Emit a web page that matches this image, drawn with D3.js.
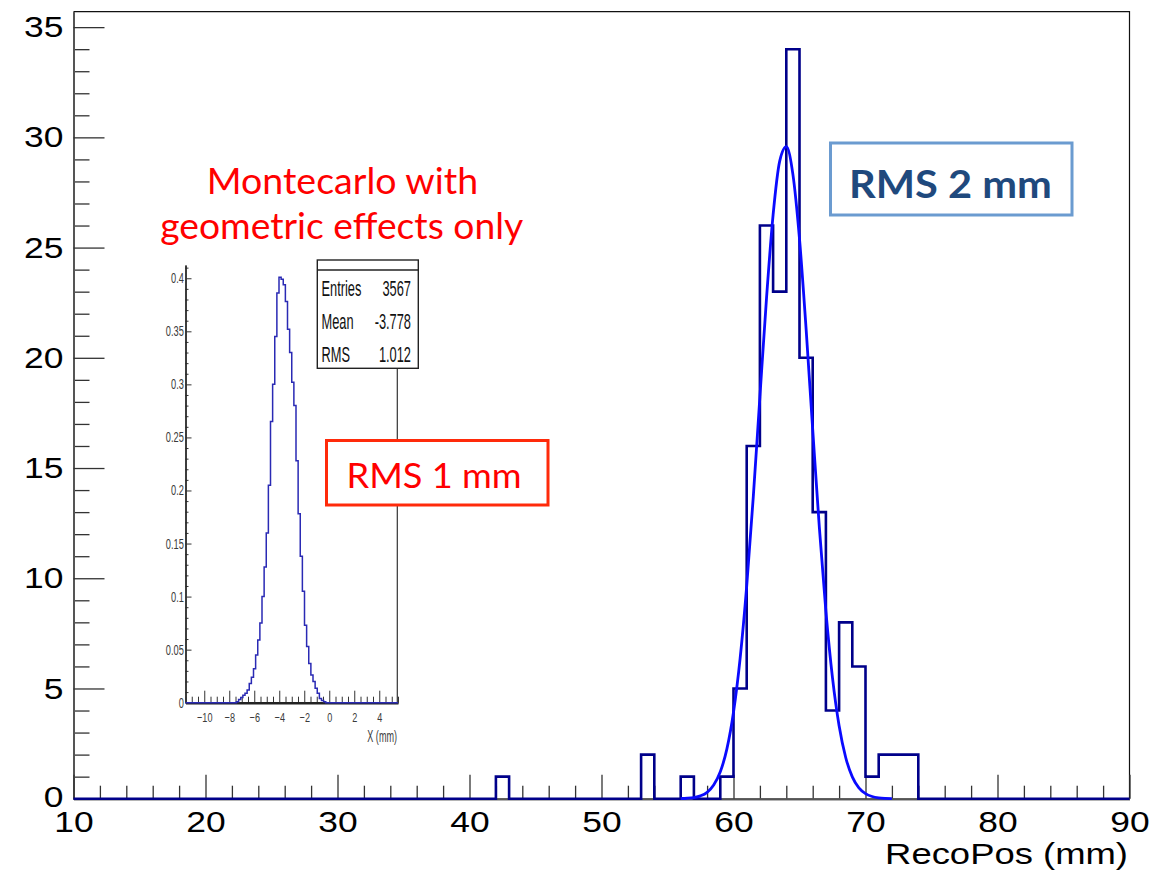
<!DOCTYPE html>
<html>
<head>
<meta charset="utf-8">
<script src="https://cdn.jsdelivr.net/npm/d3@7"></script>
<style>
  html, body { margin: 0; background: #fff; }
  svg { display: block; }
</style>
</head>
<body>
<svg id="chart" width="1173" height="870"></svg>
<script>
// ---- Reconstructed position, 1 mm bins (lower bin edge in mm -> entries); empty bins omitted
const recoRange = [10, 90];
const recoBinWidth = 1;
const recoBinLow = [42, 53, 56, 59, 60, 61, 62, 63, 64, 65, 66, 67, 68, 69, 70, 71, 72, 73];
const recoCounts = [1, 2, 1, 1, 5, 16, 26, 23, 34, 20, 13, 4, 8, 6, 1, 2, 2, 2];

// ---- Gaussian fit curve drawn over the histogram (x in mm -> entries)
const fitX = [56, 56.5, 57, 57.5, 58, 58.5, 59, 59.5, 60, 60.5, 61, 61.5, 62, 62.5, 63, 63.5,
              64, 64.5, 65, 65.5, 66, 66.5, 67, 67.5, 68, 68.5, 69, 69.5, 70, 70.5, 71, 71.5, 72];
const fitY = [0.008, 0.021, 0.054, 0.13, 0.29, 0.62, 1.22, 2.26, 3.92, 6.35, 9.64, 13.70, 18.23,
              22.70, 26.48, 28.92, 29.58, 28.32, 25.39, 21.31, 16.75, 12.33, 8.50, 5.48, 3.31,
              1.87, 0.99, 0.49, 0.23, 0.10, 0.04, 0.015, 0.006];

// ---- Main axes ticks
const yMajorTicks = [0, 5, 10, 15, 20, 25, 30, 35];
const xMajorTicks = [10, 20, 30, 40, 50, 60, 70, 80, 90];
const xTitle = "RecoPos (mm)";

// ---- Inset: Monte Carlo, normalised, 100 bins over the range
const mcRange = [-11.5, 5.5];
const mcBinWidth = 0.17;
const mcFirstBin = 24;           // index of the first non-empty bin
const mcDensity = [0.001, 0.003, 0.005, 0.007, 0.009, 0.012, 0.018, 0.024, 0.032, 0.045,
                   0.059, 0.075, 0.100, 0.128, 0.160, 0.205, 0.265, 0.300, 0.345, 0.386,
                   0.401, 0.399, 0.394, 0.378, 0.352, 0.330, 0.302, 0.280, 0.228, 0.178,
                   0.138, 0.105, 0.073, 0.053, 0.037, 0.026, 0.020, 0.0136, 0.009, 0.004,
                   0.002, 0.001];
const mcYTicks  = [0, 0.05, 0.1, 0.15, 0.2, 0.25, 0.3, 0.35, 0.4];
const mcYLabels = ["0", "0.05", "0.1", "0.15", "0.2", "0.25", "0.3", "0.35", "0.4"];
const mcXTicks  = [-10, -8, -6, -4, -2, 0, 2, 4];
const mcXTitle  = "X (mm)";
const statNames  = ["Entries", "Mean", "RMS"];
const statValues = ["3567", "-3.778", "1.012"];

// ---- Annotations
const mcNoteLines = ["Montecarlo with", "geometric effects only"];
const mcRmsNote = "RMS 1 mm";
const dataRmsNote = "RMS 2 mm";

// =====================================================================
const svg = d3.select("#chart");
const AXIS_FONT = "'Liberation Sans', Arial, Helvetica, sans-serif";
const NOTE_FONT = "Lato, 'Open Sans', sans-serif";
const LABEL_SX = 1.18;   // horizontal stretch of the axis lettering

const x = d3.scaleLinear().domain(recoRange).range([73.5, 1129.5]);
const y = d3.scaleLinear().domain([0, 35.7]).range([798.7, 11.7]);

// frame (top and right)
svg.append("path")
  .attr("d", `M${x.range()[0]},${y.range()[1]}H${x.range()[1]}V${y.range()[0]}`)
  .attr("fill", "none").attr("stroke", "#111").attr("stroke-width", 1.2);

// minor ticks
const yMinor = d3.range(0, 36, 1).filter(v => v % 5 !== 0);
const xMinor = d3.range(10, 91, 2).filter(v => v % 10 !== 0);

const gyMinor = svg.append("g").attr("transform", `translate(${x.range()[0]},0)`)
  .call(d3.axisLeft(y).tickValues(yMinor).tickSize(-16).tickSizeOuter(0).tickFormat(""));
const gxMinor = svg.append("g").attr("transform", `translate(0,${y.range()[0]})`)
  .call(d3.axisBottom(x).tickValues(xMinor).tickSize(-13).tickSizeOuter(0).tickFormat(""));

const gy = svg.append("g").attr("transform", `translate(${x.range()[0]},0)`)
  .call(d3.axisLeft(y).tickValues(yMajorTicks).tickSize(-31).tickSizeOuter(0).tickPadding(8.5));
const gx = svg.append("g").attr("transform", `translate(0,${y.range()[0]})`)
  .call(d3.axisBottom(x).tickValues(xMajorTicks).tickSize(-24).tickSizeOuter(0).tickPadding(12));

[gyMinor, gxMinor, gy, gx].forEach(g => {
  g.selectAll(".tick line").attr("stroke", "#333").attr("stroke-width", 1.3);
  g.select(".domain").attr("stroke", "#555").attr("stroke-width", 2);
});
[gy, gx].forEach(g => {
  g.selectAll("text")
    .attr("font-family", AXIS_FONT).attr("font-size", 30).attr("fill", "#000")
    .attr("transform", `scale(${LABEL_SX},1)`);
});
// the zero label sits a touch higher, just clear of the first x label
gy.selectAll(".tick").filter(d => d === 0).select("text").attr("dy", "0.26em");

// axis title, fitted to its width and right-aligned to the frame
{
  const g = svg.append("g");
  const t = g.append("text").attr("text-anchor", "end")
    .attr("font-family", AXIS_FONT).attr("font-size", 29).attr("fill", "#000").text(xTitle);
  const w = t.node().getComputedTextLength();
  g.attr("transform", `translate(1128,864) scale(${243 / w},1)`);
}

// ---- histogram outline (steps including empty bins along the baseline)
function stepPoints(lo, hi, width, lows, vals) {
  const byBin = new Map(lows.map((l, i) => [Math.round((l - lo) / width), vals[i]]));
  const n = Math.round((hi - lo) / width);
  const pts = [[lo, 0]];
  for (let k = 0; k < n; k++) {
    const v = byBin.get(k) || 0;
    pts.push([lo + k * width, v], [lo + (k + 1) * width, v]);
  }
  pts.push([hi, 0]);
  return pts;
}

const recoPts = stepPoints(recoRange[0], recoRange[1], recoBinWidth, recoBinLow, recoCounts);
svg.append("path")
  .attr("d", d3.line().x(d => x(d[0])).y(d => y(d[1]))(recoPts))
  .attr("fill", "none").attr("stroke", "#00008a").attr("stroke-width", 2.6)
  .attr("stroke-linejoin", "miter");

// ---- fit curve
svg.append("path")
  .datum(fitX.map((v, i) => [v, fitY[i]]))
  .attr("d", d3.line().x(d => x(d[0])).y(d => y(d[1])).curve(d3.curveMonotoneX))
  .attr("fill", "none").attr("stroke", "#0a0aff").attr("stroke-width", 2.8);

// =====================================================================
// Inset
const ix = d3.scaleLinear().domain(mcRange).range([185.5, 398]);
const iy = d3.scaleLinear().domain([0, 0.4125]).range([702.7, 265]);
const inset = svg.append("g");

const iyMinor = d3.range(0, 0.411, 0.01).filter(v => Math.abs(v * 20 - Math.round(v * 20)) > 1e-6);
const ixMinor = d3.range(-11.5, 5.51, 0.5).filter(v => Math.abs(v / 2 - Math.round(v / 2)) > 1e-6);

const giyMinor = inset.append("g").attr("transform", `translate(${ix.range()[0]},0)`)
  .call(d3.axisLeft(iy).tickValues(iyMinor).tickSize(-3).tickSizeOuter(0).tickFormat(""));
const giy = inset.append("g").attr("transform", `translate(${ix.range()[0]},0)`)
  .call(d3.axisLeft(iy).tickValues(mcYTicks).tickSize(-6).tickSizeOuter(0).tickPadding(2.5)
    .tickFormat((d, i) => mcYLabels[i]));
const gixMinor = inset.append("g").attr("transform", `translate(0,${iy.range()[0]})`)
  .call(d3.axisBottom(ix).tickValues(ixMinor).tickSize(-6).tickSizeOuter(0).tickFormat(""));
const gix = inset.append("g").attr("transform", `translate(0,${iy.range()[0]})`)
  .call(d3.axisBottom(ix).tickValues(mcXTicks).tickSize(-12).tickSizeOuter(0).tickPadding(10));

[giyMinor, giy, gixMinor, gix].forEach(g => {
  g.selectAll(".tick line").attr("stroke", "#333").attr("stroke-width", 1);
  g.select(".domain").attr("stroke", "#222").attr("stroke-width", 1.3);
});
gix.select(".domain").attr("stroke-width", 2.4);
giy.selectAll("text").attr("font-family", AXIS_FONT).attr("font-size", 14)
  .attr("fill", "#3a3a3a").attr("transform", "scale(0.66,1)");
gix.selectAll("text").attr("font-family", AXIS_FONT).attr("font-size", 13)
  .attr("fill", "#3a3a3a").attr("transform", "scale(0.7,1)");

inset.append("text")
  .attr("transform", "translate(397,742) scale(0.55,1)")
  .attr("text-anchor", "end").attr("font-family", AXIS_FONT).attr("font-size", 16.5)
  .attr("fill", "#3a3a3a").text(mcXTitle);

// right edge of the inset frame, below the statistics box
inset.append("line")
  .attr("x1", 397.3).attr("x2", 397.3).attr("y1", 368).attr("y2", iy.range()[0])
  .attr("stroke", "#333").attr("stroke-width", 1.2);

// inset histogram
const mcLows = mcDensity.map((_, i) => mcRange[0] + (mcFirstBin + i) * mcBinWidth);
const mcPts = stepPoints(mcRange[0], mcRange[1], mcBinWidth, mcLows, mcDensity);
inset.append("path")
  .attr("d", d3.line().x(d => ix(d[0])).y(d => iy(d[1]))(mcPts))
  .attr("fill", "none").attr("stroke", "#2a2ab4").attr("stroke-width", 1.5);

// statistics box
const stat = inset.append("g");
stat.append("rect").attr("x", 317.3).attr("y", 260).attr("width", 101).attr("height", 108.3)
  .attr("fill", "#fff").attr("stroke", "#222").attr("stroke-width", 1.4);
stat.append("line").attr("x1", 317.3).attr("x2", 418.3).attr("y1", 270).attr("y2", 270)
  .attr("stroke", "#222").attr("stroke-width", 1.4);
const statBase = [296, 329.3, 361.7];
statNames.forEach((s, i) => {
  stat.append("text").attr("transform", `translate(321.5,${statBase[i]}) scale(0.6,1)`)
    .attr("font-family", AXIS_FONT).attr("font-size", 21.4).attr("fill", "#111").text(s);
  stat.append("text").attr("transform", `translate(411,${statBase[i]}) scale(0.6,1)`)
    .attr("text-anchor", "end")
    .attr("font-family", AXIS_FONT).attr("font-size", 21.4).attr("fill", "#111").text(statValues[i]);
});

// =====================================================================
// Annotations: text fitted to a given width, horizontally centred
function fittedText(parent, str, cx, baseline, width, size, color, weight) {
  const g = parent.append("g");
  const t = g.append("text").attr("text-anchor", "middle")
    .attr("font-family", NOTE_FONT).attr("font-size", size)
    .attr("font-weight", weight || "normal").attr("fill", color).text(str);
  const w = t.node().getComputedTextLength();
  g.attr("transform", `translate(${cx},${baseline}) scale(${width / w},1)`);
  return g;
}

fittedText(svg, mcNoteLines[0], 342.5, 193.5, 271.6, 37, "#ff0000");
fittedText(svg, mcNoteLines[1], 341.7, 238.5, 363, 37, "#ff0000");

svg.append("rect").attr("x", 326.5).attr("y", 440.5).attr("width", 221.5).attr("height", 64.5)
  .attr("fill", "#fff").attr("stroke", "#ff2a0a").attr("stroke-width", 3);
fittedText(svg, mcRmsNote, 434, 488.3, 175, 35, "#ff0000");

svg.append("rect").attr("x", 830.5).attr("y", 143).attr("width", 241.5).attr("height", 72)
  .attr("fill", "#fff").attr("stroke", "#6b9bd0").attr("stroke-width", 3);
fittedText(svg, dataRmsNote, 950.5, 197.5, 203, 38, "#1f497d", "bold");
</script>
</body>
</html>
